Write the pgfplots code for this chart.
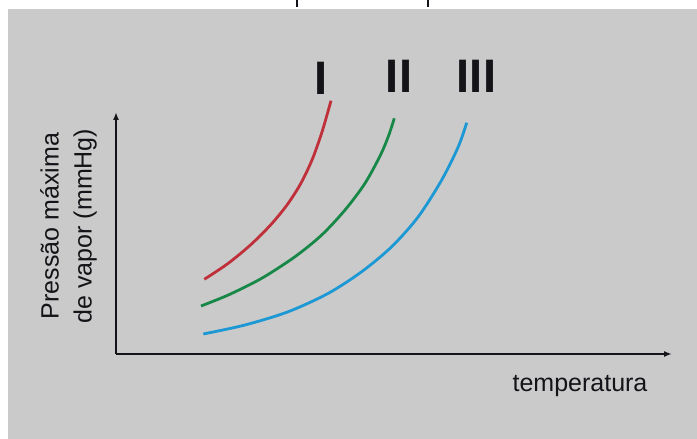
\documentclass[border=0pt]{standalone}
\usepackage{fontspec}
\setmainfont{Liberation Sans}
\usepackage{pgfplots}
\pgfplotsset{compat=1.18}
\usetikzlibrary{arrows.meta}
\definecolor{fundo}{RGB}{202,202,202}
\definecolor{curvaI}{RGB}{192,48,58}
\definecolor{curvaII}{RGB}{24,136,72}
\definecolor{curvaIII}{RGB}{28,152,212}
\definecolor{tinta}{RGB}{20,20,24}

\begin{document}
\begin{tikzpicture}[x=1pt,y=1pt]
    \useasboundingbox (0,0) rectangle (697,439);
    \fill[white] (0,0) rectangle (697,439);
    \fill[fundo] (8,0) rectangle (697,430);

    % restos do título cortado no topo da imagem
    \draw[tinta, line width=2.6pt] (297,439) -- (297,432);
    \draw[tinta, line width=2.6pt] (428,439) -- (428,432);

    \begin{axis}[
        at={(116,85)},
        anchor=south west,
        scale only axis,
        width=556pt,
        height=242pt,
        xmin=0, xmax=556,
        ymin=0, ymax=242,
        axis lines=left,
        ticks=none,
        clip=false,
        axis line style={draw=tinta, line width=1.6pt},
        x axis line style={-{Latex[length=8pt,width=6pt]}},
        y axis line style={-{Latex[length=8pt,width=6pt]}},
        every axis plot/.append style={line width=2.8pt, smooth, tension=0.5, no markers},
    ]
        % I
        \addplot[curvaI] coordinates {(88.3,74.7) (112,90.5) (135,109.5) (155,129.5) (171,149)
            (184.5,170) (196,194) (206,222) (215,253.3)};
        % II
        \addplot[curvaII] coordinates {(85,48) (112.3,59) (145.7,75.7) (179,97.3) (205.7,119)
            (229,144) (249,170.7) (264.5,199) (272.5,218) (278.3,235.7)};
        % III
        \addplot[curvaIII] coordinates {(87.3,20) (129,29) (172.3,42.3) (212.3,60.7) (245.7,82.3)
            (275.7,107.3) (302.3,137.3) (325.7,174) (342.3,207.3) (350.7,231.3)};
    \end{axis}

    \begin{scope}[every node/.style={inner sep=0, text=tinta}]
        \node[anchor=base, font=\fontsize{47}{50}\selectfont\bfseries] at (321.5,344) {I};
        \node[anchor=base, font=\fontsize{47}{50}\selectfont\bfseries] at (399,346) {II};
        \node[anchor=base, font=\fontsize{47}{50}\selectfont\bfseries] at (476.5,346) {III};
        \node[anchor=base, font=\fontsize{25}{30}\selectfont] at (580,47) {temperatura};
        \node[rotate=90, align=center, font=\fontsize{25}{33}\selectfont] at (68.5,213)
            {Pressão máxima\\de vapor (mmHg)};
    \end{scope}
\end{tikzpicture}
\end{document}
